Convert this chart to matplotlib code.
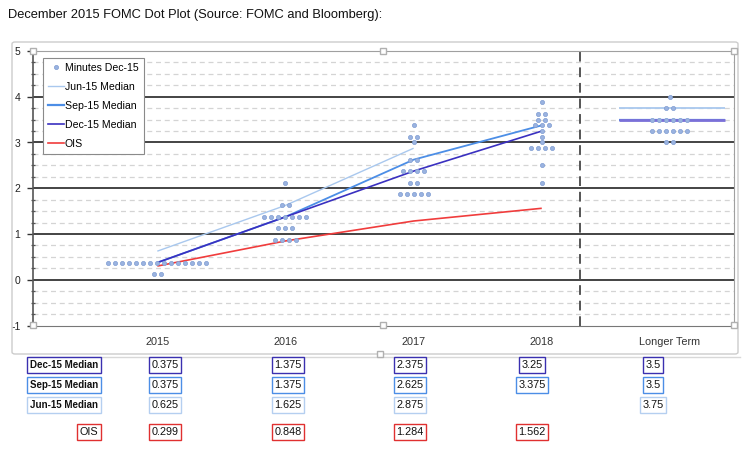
import matplotlib
matplotlib.use('Agg')
import matplotlib.pyplot as plt
from matplotlib.lines import Line2D
from matplotlib.patches import FancyBboxPatch

# --- DATA ---
years = ['2015', '2016', '2017', '2018', 'Longer Term']

rates_2015 = [0.125, 0.375]
counts_2015 = [2, 15]
rates_2016 = [0.875, 1.125, 1.375, 1.625, 2.125]
counts_2016 = [4, 3, 7, 2, 1]
rates_2017 = [1.875, 2.125, 2.375, 2.625, 3.0, 3.125, 3.375]
counts_2017 = [5, 2, 4, 2, 1, 2, 1]
rates_2018 = [2.125, 2.5, 2.875, 3.0, 3.125, 3.25, 3.375, 3.5, 3.625, 3.875]
counts_2018 = [1, 1, 4, 1, 1, 1, 3, 2, 2, 1]
rates_lt = [3.0, 3.25, 3.5, 3.75, 4.0]
counts_lt = [2, 6, 6, 2, 1]

jun15_median = [0.625, 1.625, 2.875, None, 3.75]
sep15_median = [0.375, 1.375, 2.625, 3.375, 3.5]
dec15_median = [0.375, 1.375, 2.375, 3.25, 3.5]
ois = [0.299, 0.848, 1.284, 1.562, None]

# --- STYLE ---
FONT = ['Liberation Sans', 'DejaVu Sans']
NARROW = ['Liberation Sans Narrow', 'DejaVu Sans Condensed', 'Liberation Sans']
plt.rcParams['font.family'] = FONT
plt.rcParams['axes.unicode_minus'] = False

DOT_FC = '#9AB3E0'
DOT_EC = '#7F9CD2'
JUN_C = '#A9C8EE'
SEP_C = '#4C8EE6'
DEC_C = '#3A30C0'
OIS_C = '#F03C3C'

W, H = 750, 473


def fx(x):
    return x / W


def fy(y):
    return 1 - y / H


fig = plt.figure(figsize=(7.5, 4.73), dpi=100)
fig.text(fx(8), fy(15), 'December 2015 FOMC Dot Plot (Source: FOMC and Bloomberg):',
         fontsize=9.3, va='center', ha='left', color='#111111')

# outer chart frame
frame = FancyBboxPatch((fx(12), fy(354)), fx(738) - fx(12), fy(42) - fy(354),
                       boxstyle='round,pad=0,rounding_size=0.004',
                       transform=fig.transFigure, fill=False, ec='#CCCCCC', lw=1.0)
fig.add_artist(frame)
fig.add_artist(Line2D([fx(30), fx(740)], [fy(357), fy(357)], transform=fig.transFigure,
                      color='#D8D8D8', lw=1.0))

ax = fig.add_axes([fx(33), fy(325.5), fx(734) - fx(33), fy(51) - fy(325.5)])
ax.set_xlim(0.03, 5.5)
ax.set_ylim(-1, 5)

# grid
for v in range(0, 5):
    ax.axhline(v, color='#111111', lw=1.1, zorder=1)
for i in range(-4, 20):
    v = i * 0.25
    if v % 1 != 0:
        ax.axhline(v, color='#D4D4D4', lw=0.9, ls=(0, (4, 3)), zorder=0.5)

ax.axvline(4.3, color='#555555', lw=1.4, ls=(0, (5, 3)), zorder=1)

# dots
SPACING = 7 / 128
dot_groups = [(rates_2015, counts_2015), (rates_2016, counts_2016), (rates_2017, counts_2017),
              (rates_2018, counts_2018), (rates_lt, counts_lt)]
dx, dy = [], []
for pos, (rates, counts) in enumerate(dot_groups, start=1):
    for r, n in zip(rates, counts):
        for k in range(n):
            dx.append(pos + (k - (n - 1) / 2) * SPACING)
            dy.append(r)


# median lines (years + longer term)
def plot_series(vals, color, lw):
    xs = [i + 1 for i, v in enumerate(vals[:4]) if v is not None]
    ys = [v for v in vals[:4] if v is not None]
    ax.plot(xs, ys, color=color, lw=lw, zorder=3, solid_capstyle='butt')
    if vals[4] is not None:
        ax.plot([4.6, 5.43], [vals[4], vals[4]], color=color, lw=lw + 0.3, zorder=3,
                solid_capstyle='butt')


plot_series(jun15_median, JUN_C, 1.0)
plot_series(sep15_median, SEP_C, 1.3)
plot_series(ois, OIS_C, 1.2)
ax.plot([1, 2, 3, 4], dec15_median[:4], color=DEC_C, lw=1.2, zorder=3)
ax.plot([4.6, 5.43], [dec15_median[4]] * 2, color='#7B70D8', lw=2.0, zorder=3,
        solid_capstyle='butt')

ax.scatter(dx, dy, s=9, color=DOT_FC, edgecolors=DOT_EC, linewidths=0.5, zorder=4)

# axes look
for side in ['top', 'right']:
    ax.spines[side].set_color('#A0A0A0')
ax.spines['bottom'].set_color('#777777')
ax.spines['left'].set_color('#555555')
ax.spines['left'].set_linewidth(1.2)
ax.set_yticks(range(-1, 6))
ax.set_yticks([i * 0.25 for i in range(-4, 21)], minor=True)
ax.tick_params(axis='y', which='major', direction='out', length=4, width=1, color='#333333',
               labelsize=7.5, pad=5, labelcolor='#222222')
ax.tick_params(axis='y', which='minor', direction='inout', length=3, width=0.9, color='#555555')
ax.set_xticks(range(1, 6))
ax.set_xticklabels(years)
ax.tick_params(axis='x', length=0, labelsize=7.8, pad=8, labelcolor='#333333')

# legend
handles = [
    Line2D([], [], ls='none', marker='o', ms=3, mfc=DOT_FC, mec=DOT_EC, mew=0.5),
    Line2D([], [], color=JUN_C, lw=1.0),
    Line2D([], [], color=SEP_C, lw=1.6),
    Line2D([], [], color=DEC_C, lw=1.2),
    Line2D([], [], color=OIS_C, lw=1.2),
]
labels = ['Minutes Dec-15', 'Jun-15 Median', 'Sep-15 Median', 'Dec-15 Median', 'OIS']
leg = ax.legend(handles, labels, loc='upper left', bbox_to_anchor=(0.014, 0.975),
                borderaxespad=0, fontsize=7.6, handlelength=1.5, handletextpad=0.1,
                labelspacing=0.85, borderpad=0.5, fancybox=False, framealpha=1,
                edgecolor='#8A8A8A')
leg.get_frame().set_linewidth(0.8)
leg.set_zorder(10)

# selection handles
for hx, hy in [(33, 51), (383, 51), (734, 51), (33, 325), (383, 325), (734, 325), (380, 354)]:
    fig.add_artist(Line2D([fx(hx)], [fy(hy)], transform=fig.transFigure, marker='s', ms=4.5,
                          mfc='white', mec='#B0B0B0', mew=1.0, ls='none'))

# table below the chart
row_y = [365, 385, 405, 432]
row_names = ['Dec-15 Median', 'Sep-15 Median', 'Jun-15 Median', 'OIS']
row_vals = [dec15_median, sep15_median, jun15_median, ois]
row_colors = ['#3A30B0', '#4C8EE6', '#B5CFF0', '#E03030']
col_x = [165, 288, 410, 532, 653]

for y, name, vals, c in zip(row_y, row_names, row_vals, row_colors):
    if name == 'OIS':
        fig.text(fx(98), fy(y), name, fontsize=7.8, ha='right', va='center', color='#111111',
                 bbox=dict(boxstyle='square,pad=0.25', fc='white', ec=c, lw=1.0))
    else:
        fig.text(fx(98), fy(y), name, fontsize=7.0, ha='right', va='center', color='#111111',
                 fontweight='bold', family=NARROW, fontstretch='condensed',
                 bbox=dict(boxstyle='square,pad=0.28', fc='white', ec=c, lw=1.0))
    for cx, v in zip(col_x, vals):
        if v is None:
            continue
        fig.text(fx(cx), fy(y), f'{v:g}', fontsize=7.8, ha='center', va='center',
                 color='#111111',
                 bbox=dict(boxstyle='square,pad=0.25', fc='white', ec=c, lw=1.0))

fig.savefig('out.png', dpi=100)
